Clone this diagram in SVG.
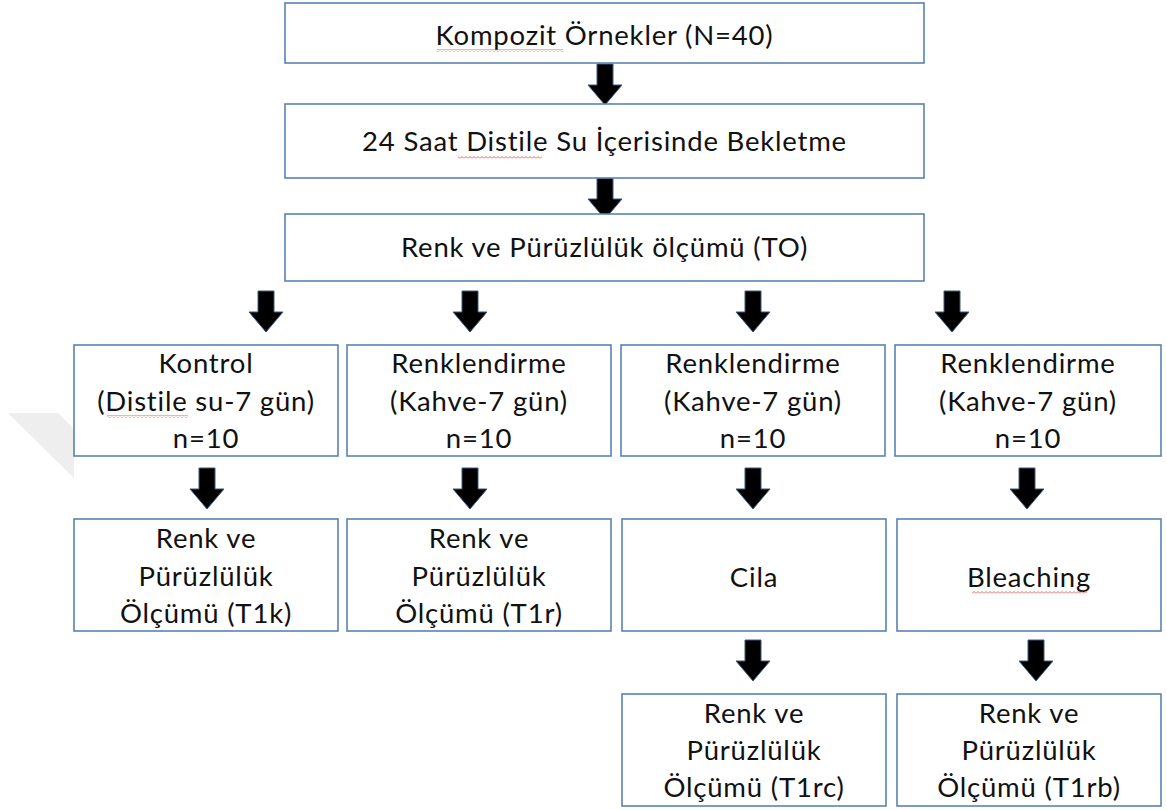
<svg xmlns="http://www.w3.org/2000/svg" xmlns:xlink="http://www.w3.org/1999/xlink" width="1167" height="810" viewBox="0 0 1167 810">
<style>
.box{fill:#ffffff;stroke:#5a82b0;stroke-width:1.6}
.t{font-family:Lato,"Noto Sans","Liberation Sans",sans-serif;font-size:27.5px;letter-spacing:0.8px;fill:#111111;text-anchor:middle}
.arr{fill:#000000;stroke:#3d5a78;stroke-width:1}
.wm{fill:#eeeeee}
</style>
<defs>
<path id="arrow" d="M-8,0 H8 V21 H17 L0,41 L-17,21 H-8 Z"/>
<pattern id="wave" x="0" y="0" width="4" height="3" patternUnits="userSpaceOnUse">
<path d="M0,2.5 L2,0.5 L4,2.5" fill="none" stroke="#e0403a" stroke-width="0.8"/>
</pattern>
</defs>
<rect width="1167" height="810" fill="#ffffff"/>
<polygon class="wm" points="8,413 58,413 74,429 74,478"/>
<g id="connectors">
<use href="#arrow" class="arr" x="605" y="64"/>
<use href="#arrow" class="arr" x="605" y="178"/>
<use href="#arrow" class="arr" x="266" y="291"/>
<use href="#arrow" class="arr" x="470" y="291"/>
<use href="#arrow" class="arr" x="753" y="291"/>
<use href="#arrow" class="arr" x="952" y="291"/>
<use href="#arrow" class="arr" x="207" y="468"/>
<use href="#arrow" class="arr" x="470" y="468"/>
<use href="#arrow" class="arr" x="753" y="468"/>
<use href="#arrow" class="arr" x="1027" y="468"/>
<use href="#arrow" class="arr" x="753" y="640"/>
<use href="#arrow" class="arr" x="1036" y="640"/>
</g>
<g id="n1">
<rect class="box" x="285" y="3" width="639" height="60"/>
<text class="t" x="604.5" y="45">Kompozit Örnekler (N=40)</text>
<rect x="437" y="49" width="126" height="3" fill="url(#wave)"/>
</g>
<g id="n2">
<rect class="box" x="285" y="104" width="639" height="74"/>
<text class="t" x="604.5" y="151">24 Saat Distile Su İçerisinde Bekletme</text>
<rect x="458" y="156" width="84" height="3" fill="url(#wave)"/>
</g>
<g id="n3">
<rect class="box" x="285" y="214" width="639" height="67"/>
<text class="t" x="604.5" y="257">Renk ve Pürüzlülük ölçümü (TO)</text>
</g>
<g id="n4">
<rect class="box" x="74" y="345" width="264" height="111"/>
<text class="t" x="206" y="373">Kontrol</text>
<text class="t" x="206" y="411">(Distile su-7 gün)</text>
<text class="t" x="206" y="448">n=10</text>
<rect x="107" y="415" width="81" height="3" fill="url(#wave)"/>
</g>
<g id="n5">
<rect class="box" x="347" y="345" width="264" height="111"/>
<text class="t" x="479" y="373">Renklendirme</text>
<text class="t" x="479" y="411">(Kahve-7 gün)</text>
<text class="t" x="479" y="448">n=10</text>
</g>
<g id="n6">
<rect class="box" x="621" y="345" width="264" height="111"/>
<text class="t" x="753" y="373">Renklendirme</text>
<text class="t" x="753" y="411">(Kahve-7 gün)</text>
<text class="t" x="753" y="448">n=10</text>
</g>
<g id="n7">
<rect class="box" x="895" y="345" width="266" height="111"/>
<text class="t" x="1028" y="373">Renklendirme</text>
<text class="t" x="1028" y="411">(Kahve-7 gün)</text>
<text class="t" x="1028" y="448">n=10</text>
</g>
<g id="n8">
<rect class="box" x="74" y="519" width="264" height="112"/>
<text class="t" x="206" y="548">Renk ve</text>
<text class="t" x="206" y="586">Pürüzlülük</text>
<text class="t" x="206" y="623">Ölçümü (T1k)</text>
</g>
<g id="n9">
<rect class="box" x="347" y="519" width="264" height="112"/>
<text class="t" x="479" y="548">Renk ve</text>
<text class="t" x="479" y="586">Pürüzlülük</text>
<text class="t" x="479" y="623">Ölçümü (T1r)</text>
</g>
<g id="n10">
<rect class="box" x="622" y="519" width="264" height="112"/>
<text class="t" x="754" y="587">Cila</text>
</g>
<g id="n11">
<rect class="box" x="897" y="519" width="264" height="112"/>
<text class="t" x="1029" y="587">Bleaching</text>
<rect x="972" y="591" width="115" height="3" fill="url(#wave)"/>
</g>
<g id="n12">
<rect class="box" x="622" y="694" width="264" height="112"/>
<text class="t" x="754" y="723">Renk ve</text>
<text class="t" x="754" y="760">Pürüzlülük</text>
<text class="t" x="754" y="797">Ölçümü (T1rc)</text>
</g>
<g id="n13">
<rect class="box" x="897" y="694" width="264" height="112"/>
<text class="t" x="1029" y="723">Renk ve</text>
<text class="t" x="1029" y="760">Pürüzlülük</text>
<text class="t" x="1029" y="797">Ölçümü (T1rb)</text>
</g>
</svg>
